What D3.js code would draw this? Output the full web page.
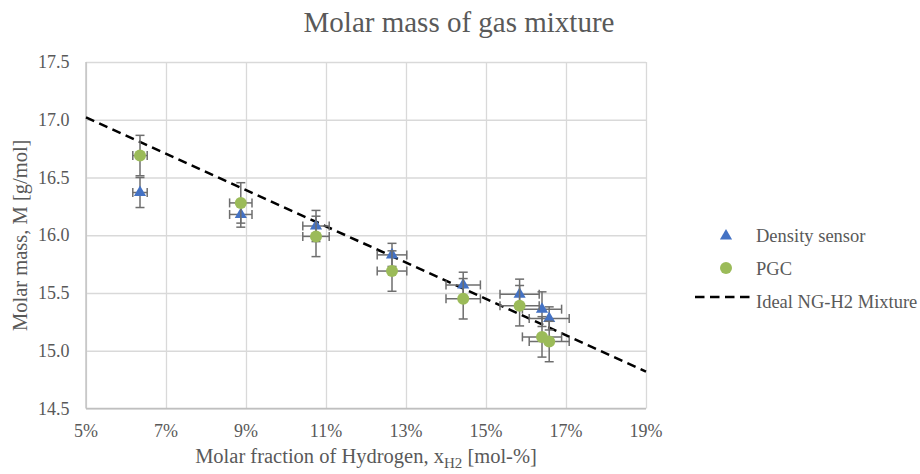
<!DOCTYPE html>
<html>
<head>
<meta charset="utf-8">
<script src="https://cdn.jsdelivr.net/npm/d3@7"></script>
<style>
  html, body { margin: 0; padding: 0; background: #fff; }
  svg { display: block; }
  text { font-family: "Liberation Serif", "Times New Roman", serif; fill: #595959; }
</style>
</head>
<body>
<svg id="chart" width="920" height="474"></svg>
<script>
// ---- data ----
const xH2 = [6.35, 8.87, 10.75, 12.65, 14.43, 15.84, 16.40, 16.58];        // mol-%
const xErr = [0.18, 0.28, 0.33, 0.37, 0.43, 0.49, 0.49, 0.50];
const densitySensor = [16.37, 16.18, 16.08, 15.83, 15.57, 15.49, 15.36, 15.28];
const densityErr = [0.13, 0.11, 0.135, 0.10, 0.11, 0.13, 0.15, 0.10];
const pgc = [16.69, 16.28, 15.99, 15.69, 15.45, 15.39, 15.12, 15.08];
const pgcErr = [0.175, 0.175, 0.175, 0.175, 0.175, 0.175, 0.175, 0.175];
const idealX = [5, 19];
const idealM = [17.02, 14.82];
const xTicks = [5, 7, 9, 11, 13, 15, 17, 19];
const yTicks = [14.5, 15.0, 15.5, 16.0, 16.5, 17.0, 17.5];
const seriesNames = ["Density sensor", "PGC", "Ideal NG-H2 Mixture"];

// ---- layout ----
const svg = d3.select("#chart");
const pL = 86, pR = 646, pT = 62, pB = 408.5;
const x = d3.scaleLinear().domain([5, 19]).range([pL, pR]);
const y = d3.scaleLinear().domain([14.5, 17.5]).range([pB, pT]);
const blue = "#4472C4", green = "#9BBB59", errColor = "#6E6E6E", gridColor = "#D9D9D9";

// title
svg.append("text").attr("x", 459).attr("y", 31.5).attr("text-anchor", "middle")
  .style("font-size", "29px").text("Molar mass of gas mixture");

// gridlines (axes without labels)
const gx = svg.append("g").attr("transform", `translate(0,${pB})`)
  .call(d3.axisBottom(x).tickValues(xTicks).tickSize(-(pB - pT)).tickFormat(""));
gx.select(".domain").remove();
gx.selectAll("line").attr("stroke", gridColor).attr("stroke-width", 1.3);
gx.selectAll("text").remove();

const gy = svg.append("g").attr("transform", `translate(${pL},0)`)
  .call(d3.axisLeft(y).tickValues(yTicks).tickSize(-(pR - pL)).tickFormat(""));
gy.select(".domain").remove();
gy.selectAll("line").attr("stroke", gridColor).attr("stroke-width", 1.3);
gy.selectAll("text").remove();

// tick labels
const fmtY = d3.format(".1f");
svg.append("g").selectAll("text").data(xTicks).join("text")
  .attr("x", d => x(d)).attr("y", 437).attr("text-anchor", "middle")
  .style("font-size", "18px").text(d => d + "%");
svg.append("g").selectAll("text").data(yTicks).join("text")
  .attr("x", 69.5).attr("y", d => y(d) + 6).attr("text-anchor", "end")
  .style("font-size", "18px").text(d => fmtY(d));

// axis lines
svg.append("line").attr("x1", pL).attr("x2", pL).attr("y1", pT).attr("y2", pB)
  .attr("stroke", "#BFBFBF").attr("stroke-width", 1.3);
svg.append("line").attr("x1", pL).attr("x2", pR).attr("y1", pB).attr("y2", pB)
  .attr("stroke", "#BFBFBF").attr("stroke-width", 1.3);

// axis titles
svg.append("text").attr("transform", `translate(27,${(pT + pB) / 2}) rotate(-90)`)
  .attr("text-anchor", "middle").style("font-size", "20.5px").text("Molar mass, M [g/mol]");
const xt = svg.append("text").attr("x", (pL + pR) / 2).attr("y", 462.5).attr("text-anchor", "middle")
  .style("font-size", "20.5px");
xt.append("tspan").text("Molar fraction of Hydrogen, x");
xt.append("tspan").attr("dy", 5).style("font-size", "15px").text("H2");
xt.append("tspan").attr("dy", -5).text(" [mol-%]");

// ideal line
const lineData = idealX.map((v, i) => [v, idealM[i]]);
svg.append("path").datum(lineData)
  .attr("d", d3.line().x(d => x(d[0])).y(d => y(d[1])))
  .attr("fill", "none").attr("stroke", "#000").attr("stroke-width", 2.5)
  .attr("stroke-dasharray", "9,5.5");

// error bars
function errorBars(vals, errs, color) {
  const g = svg.append("g").attr("stroke", color).attr("stroke-width", 1.5).attr("fill", "none");
  const cap = 4.5;
  vals.forEach((v, i) => {
    const cx = x(xH2[i]), cy = y(v);
    const y1 = y(v + errs[i]), y2 = y(v - errs[i]);
    const x1 = x(xH2[i] - xErr[i]), x2 = x(xH2[i] + xErr[i]);
    g.append("line").attr("x1", cx).attr("x2", cx).attr("y1", y1).attr("y2", y2);
    g.append("line").attr("x1", cx - cap).attr("x2", cx + cap).attr("y1", y1).attr("y2", y1);
    g.append("line").attr("x1", cx - cap).attr("x2", cx + cap).attr("y1", y2).attr("y2", y2);
    g.append("line").attr("x1", x1).attr("x2", x2).attr("y1", cy).attr("y2", cy);
    g.append("line").attr("x1", x1).attr("x2", x1).attr("y1", cy - cap).attr("y2", cy + cap);
    g.append("line").attr("x1", x2).attr("x2", x2).attr("y1", cy - cap).attr("y2", cy + cap);
  });
}
errorBars(densitySensor, densityErr, errColor);
const tri = d3.symbol().type(d3.symbolTriangle).size(64);
svg.append("g").selectAll("path").data(densitySensor).join("path")
  .attr("d", tri).attr("fill", blue)
  .attr("transform", (d, i) => `translate(${x(xH2[i])},${y(d)})`);

errorBars(pgc, pgcErr, errColor);
svg.append("g").selectAll("circle").data(pgc).join("circle")
  .attr("cx", (d, i) => x(xH2[i])).attr("cy", d => y(d)).attr("r", 6).attr("fill", green);

// legend
const lg = svg.append("g");
lg.append("path").attr("d", tri).attr("fill", blue).attr("transform", "translate(726,236)");
lg.append("circle").attr("cx", 726).attr("cy", 268).attr("r", 6).attr("fill", green);
lg.append("line").attr("x1", 695).attr("x2", 751).attr("y1", 297).attr("y2", 297)
  .attr("stroke", "#000").attr("stroke-width", 2.5).attr("stroke-dasharray", "9.5,5.5");
const legendY = [242, 275, 307.5];
seriesNames.forEach((n, i) => {
  lg.append("text").attr("x", 756).attr("y", legendY[i]).style("font-size", "18.5px").text(n);
});
</script>
</body>
</html>
